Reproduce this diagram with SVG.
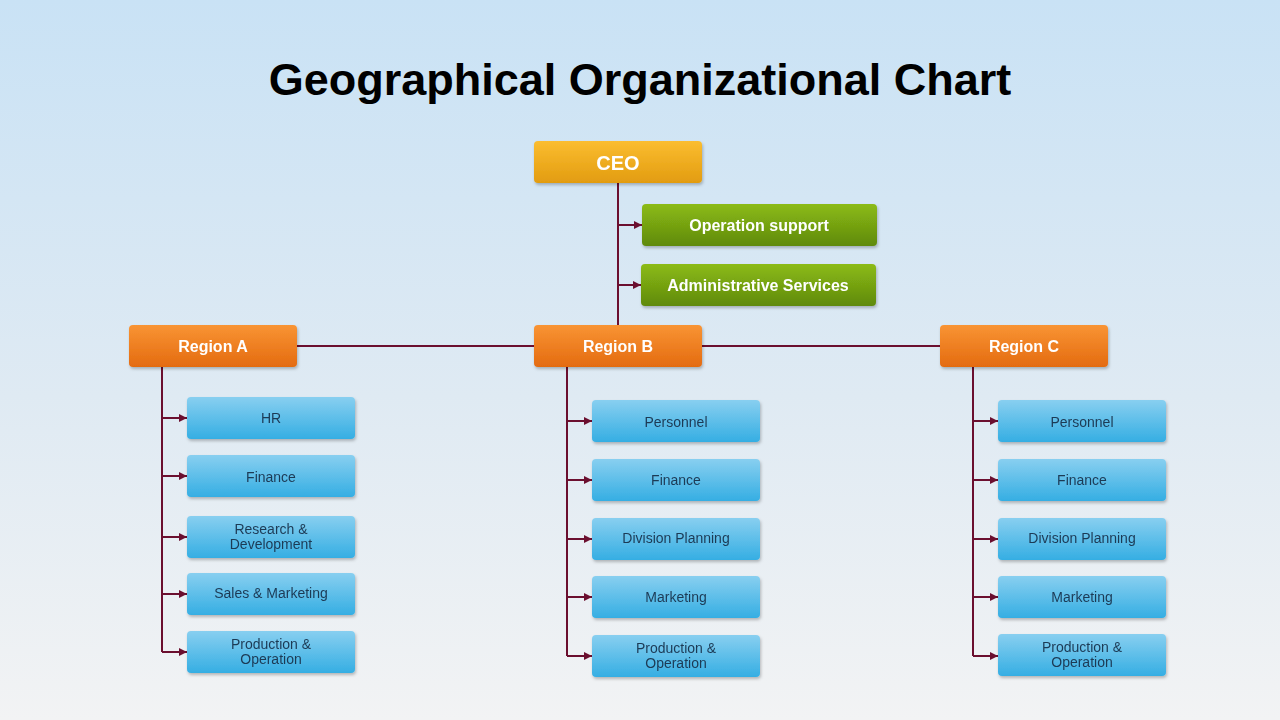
<svg xmlns="http://www.w3.org/2000/svg" width="1280" height="720" viewBox="0 0 1280 720">
<defs>
<linearGradient id="bg" x1="0" y1="0" x2="0" y2="1"><stop offset="0" stop-color="#c9e2f5"/><stop offset="0.55" stop-color="#dfeaf3"/><stop offset="1" stop-color="#f2f3f4"/></linearGradient>
<linearGradient id="gy" x1="0" y1="0" x2="0" y2="1"><stop offset="0" stop-color="#fbbd30"/><stop offset="1" stop-color="#e29c10"/></linearGradient>
<linearGradient id="gg" x1="0" y1="0" x2="0" y2="1"><stop offset="0" stop-color="#8cbb14"/><stop offset="1" stop-color="#5f8a0e"/></linearGradient>
<linearGradient id="go" x1="0" y1="0" x2="0" y2="1"><stop offset="0" stop-color="#f99434"/><stop offset="1" stop-color="#e46b10"/></linearGradient>
<linearGradient id="gb" x1="0" y1="0" x2="0" y2="1"><stop offset="0" stop-color="#88cff0"/><stop offset="1" stop-color="#35aee3"/></linearGradient>
<filter id="sh" x="-10%" y="-20%" width="130%" height="150%"><feDropShadow dx="1" dy="2" stdDeviation="1.5" flood-color="#000" flood-opacity="0.25"/></filter>
<marker id="ar" viewBox="0 0 10 10" refX="10" refY="5" markerWidth="4" markerHeight="4" orient="auto"><path d="M0,0 L10,5 L0,10 z" fill="#6b0f2f"/></marker>
<style>
.n{filter:url(#sh)}
.w{font-family:"Liberation Sans",Arial,sans-serif;font-weight:bold;fill:#fff;text-anchor:middle}
.d{font-family:"Liberation Sans",Arial,sans-serif;font-size:14px;fill:#1d3a55;text-anchor:middle}
.c{stroke:#6b0f2f;stroke-width:2;fill:none}
.a{stroke:#6b0f2f;stroke-width:2;fill:none;marker-end:url(#ar)}
</style>
</defs>
<rect width="1280" height="720" fill="url(#bg)"/>
<text x="640" y="95" font-family="Liberation Sans,Arial,sans-serif" font-weight="bold" font-size="45" text-anchor="middle" fill="#000">Geographical Organizational Chart</text>
<g id="connectors">
<path class="c" d="M618,183 V325 M297,346 H534 M702,346 H940 M162,367 V652 M567,367 V656 M973,367 V656"/>
<path class="a" d="M618,225 H642"/><path class="a" d="M618,285 H641"/>
<path class="a" d="M162,418 H187"/><path class="a" d="M162,476 H187"/><path class="a" d="M162,537 H187"/><path class="a" d="M162,594 H187"/><path class="a" d="M162,652 H187"/>
<path class="a" d="M567,421 H592"/><path class="a" d="M567,480 H592"/><path class="a" d="M567,539 H592"/><path class="a" d="M567,597 H592"/><path class="a" d="M567,656 H592"/>
<path class="a" d="M973,421 H998"/><path class="a" d="M973,480 H998"/><path class="a" d="M973,539 H998"/><path class="a" d="M973,597 H998"/><path class="a" d="M973,656 H998"/>
</g>
<g id="ceo" class="n"><rect x="534" y="141" width="168" height="42" rx="4" fill="url(#gy)"/><text class="w" x="618" y="170" font-size="20">CEO</text></g>
<g id="opsupport" class="n"><rect x="642" y="204" width="235" height="42" rx="4" fill="url(#gg)"/><text class="w" x="759" y="231" font-size="16">Operation support</text></g>
<g id="admin" class="n"><rect x="641" y="264" width="235" height="42" rx="4" fill="url(#gg)"/><text class="w" x="758" y="291" font-size="16">Administrative Services</text></g>
<g id="regionA" class="n"><rect x="129" y="325" width="168" height="42" rx="4" fill="url(#go)"/><text class="w" x="213" y="352" font-size="16">Region A</text></g>
<g id="regionB" class="n"><rect x="534" y="325" width="168" height="42" rx="4" fill="url(#go)"/><text class="w" x="618" y="352" font-size="16">Region B</text></g>
<g id="regionC" class="n"><rect x="940" y="325" width="168" height="42" rx="4" fill="url(#go)"/><text class="w" x="1024" y="352" font-size="16">Region C</text></g>
<g id="a-hr" class="n"><rect x="187" y="397" width="168" height="42" rx="4" fill="url(#gb)"/><text class="d" x="271" y="423">HR</text></g>
<g id="a-fin" class="n"><rect x="187" y="455" width="168" height="42" rx="4" fill="url(#gb)"/><text class="d" x="271" y="482">Finance</text></g>
<g id="a-rd" class="n"><rect x="187" y="516" width="168" height="42" rx="4" fill="url(#gb)"/><text class="d" x="271" y="534">Research &amp;</text><text class="d" x="271" y="549">Development</text></g>
<g id="a-sales" class="n"><rect x="187" y="573" width="168" height="42" rx="4" fill="url(#gb)"/><text class="d" x="271" y="598">Sales &amp; Marketing</text></g>
<g id="a-prod" class="n"><rect x="187" y="631" width="168" height="42" rx="4" fill="url(#gb)"/><text class="d" x="271" y="649">Production &amp;</text><text class="d" x="271" y="664">Operation</text></g>
<g id="b-pers" class="n"><rect x="592" y="400" width="168" height="42" rx="4" fill="url(#gb)"/><text class="d" x="676" y="427">Personnel</text></g>
<g id="b-fin" class="n"><rect x="592" y="459" width="168" height="42" rx="4" fill="url(#gb)"/><text class="d" x="676" y="485">Finance</text></g>
<g id="b-div" class="n"><rect x="592" y="518" width="168" height="42" rx="4" fill="url(#gb)"/><text class="d" x="676" y="543">Division Planning</text></g>
<g id="b-mkt" class="n"><rect x="592" y="576" width="168" height="42" rx="4" fill="url(#gb)"/><text class="d" x="676" y="602">Marketing</text></g>
<g id="b-prod" class="n"><rect x="592" y="635" width="168" height="42" rx="4" fill="url(#gb)"/><text class="d" x="676" y="653">Production &amp;</text><text class="d" x="676" y="668">Operation</text></g>
<g id="c-pers" class="n"><rect x="998" y="400" width="168" height="42" rx="4" fill="url(#gb)"/><text class="d" x="1082" y="427">Personnel</text></g>
<g id="c-fin" class="n"><rect x="998" y="459" width="168" height="42" rx="4" fill="url(#gb)"/><text class="d" x="1082" y="485">Finance</text></g>
<g id="c-div" class="n"><rect x="998" y="518" width="168" height="42" rx="4" fill="url(#gb)"/><text class="d" x="1082" y="543">Division Planning</text></g>
<g id="c-mkt" class="n"><rect x="998" y="576" width="168" height="42" rx="4" fill="url(#gb)"/><text class="d" x="1082" y="602">Marketing</text></g>
<g id="c-prod" class="n"><rect x="998" y="634" width="168" height="42" rx="4" fill="url(#gb)"/><text class="d" x="1082" y="652">Production &amp;</text><text class="d" x="1082" y="667">Operation</text></g>
</svg>
